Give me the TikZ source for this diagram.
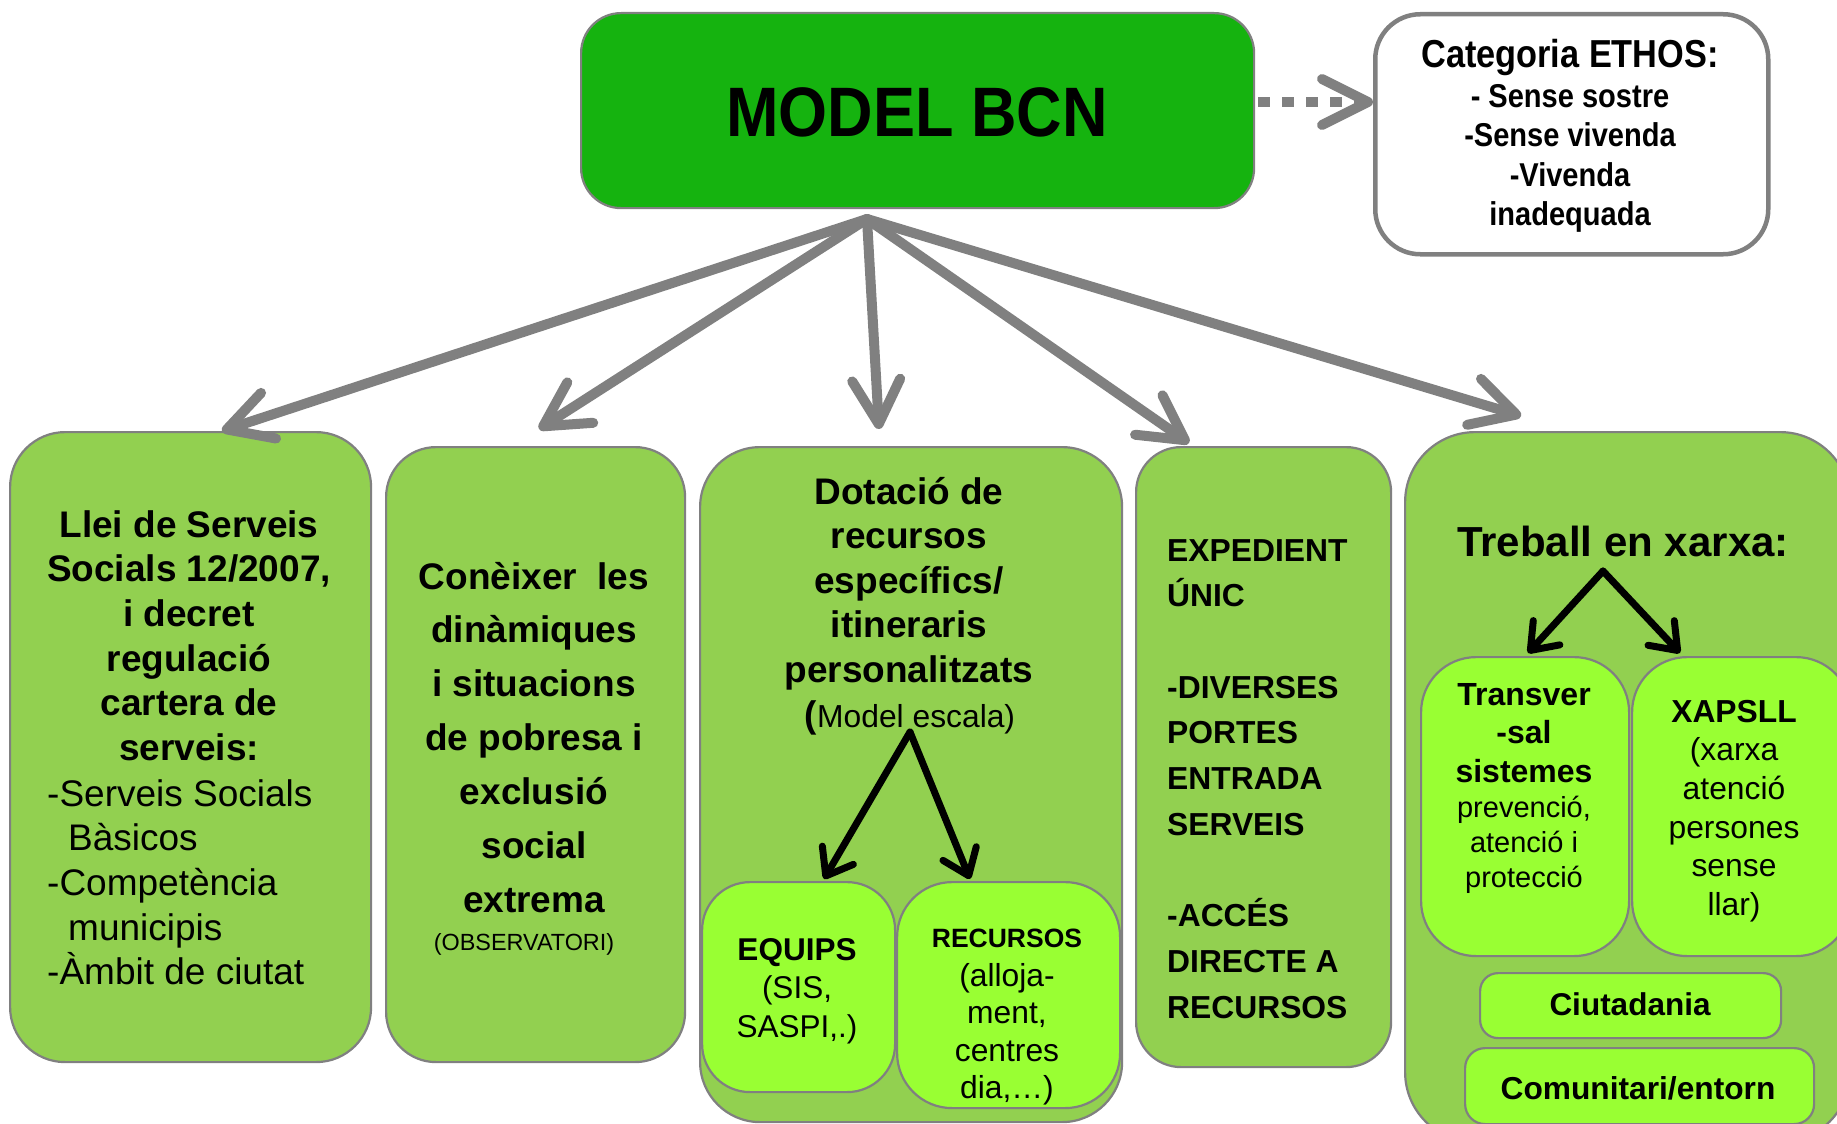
\documentclass[tikz,border=0pt]{standalone}
\usepackage{fontspec}
\setmainfont{Liberation Sans}
\newfontfamily\narrowfont[FakeStretch=0.88]{Liberation Sans}
\newfontfamily\titlefont[FakeStretch=0.9]{Liberation Sans}
\usetikzlibrary{arrows.meta}
\definecolor{maingreen}{RGB}{21,179,15}
\definecolor{boxgreen}{RGB}{146,208,80}
\definecolor{limegreen}{RGB}{153,255,51}
\definecolor{edgegray}{RGB}{128,128,128}
\tikzset{
  panel/.style={draw=edgegray, line width=2.2pt, fill=boxgreen, inner sep=0pt, anchor=north west},
  subpanel/.style={panel, fill=limegreen},
  txt/.style={inner sep=0pt, anchor=base, align=center},
  txtl/.style={inner sep=0pt, anchor=base west, align=left},
  bigarrow/.style={draw=edgegray, line width=10pt, line cap=round, -{Straight Barb[round,length=44pt,width=48pt]}},
  dotarrow/.style={draw=edgegray, line width=10pt, dash pattern=on 12pt off 12pt, -{Straight Barb[round,length=46pt,width=46pt]}},
  blackarrow/.style={draw=black, line width=7pt, line cap=round, -{Straight Barb[round,length=24pt,width=36pt]}},
}
\begin{document}
\begin{tikzpicture}[x=1pt,y=-1pt]
\clip (0,0) rectangle (1837,1124);
\fill[white] (0,0) rectangle (1837,1124);

% top boxes
\node[panel, fill=maingreen, rounded corners=40pt, minimum width=673pt, minimum height=195pt] (main) at (580,12) {};
\node[panel, fill=white, line width=4.5pt, rounded corners=45pt, minimum width=393pt, minimum height=240pt] (ethos) at (1373,12) {};

% lower panels
\node[panel, rounded corners=55pt, minimum width=361pt, minimum height=630pt] (lei) at (9,431) {};
\node[panel, rounded corners=50pt, minimum width=299pt, minimum height=615pt] (conei) at (385,446) {};
\node[panel, rounded corners=60pt, minimum width=422pt, minimum height=675pt] (dota) at (699,446) {};
\node[panel, rounded corners=45pt, minimum width=255pt, minimum height=620pt] (exped) at (1135,446) {};
\node[panel, rounded corners=70pt, minimum width=445pt, minimum height=710pt] (xarxa) at (1404,431) {};

% sub panels
\node[subpanel, rounded corners=48pt, minimum width=193pt, minimum height=210pt] (equips) at (701,881) {};
\node[subpanel, rounded corners=55pt, minimum width=223pt, minimum height=226pt] (recur) at (896,881) {};
\node[subpanel, rounded corners=55pt, minimum width=208pt, minimum height=299pt] (transv) at (1420,656) {};
\node[subpanel, rounded corners=55pt, minimum width=219pt, minimum height=299pt] (xapsll) at (1631,656) {};
\node[subpanel, rounded corners=18pt, minimum width=301pt, minimum height=65pt] (ciuta) at (1479,972) {};
\node[subpanel, rounded corners=20pt, minimum width=349pt, minimum height=76pt] (comun) at (1464,1047) {};

% texts (anchor = baseline of the last line)
\node[txt, font=\titlefont\bfseries\fontsize{70}{84}\selectfont] (mtitle) at (917,136) {MODEL BCN};
\node[txt, font=\narrowfont\bfseries\fontsize{39}{39.5}\selectfont] (ethosT) at (1570,68) {Categoria ETHOS:};
\node[txt, font=\narrowfont\bfseries\fontsize{33}{39.5}\selectfont] (ethosL) at (1570,225.5) {- Sense sostre\\-Sense vivenda\\-Vivenda\\inadequada};

\node[txt, font=\bfseries\fontsize{37}{44.7}\selectfont] (leiT) at (189,760.5) {Llei de Serveis\\Socials 12/2007,\\i decret\\regulació\\cartera de\\serveis:};
\node[txtl, font=\fontsize{37}{44.7}\selectfont] (leiL) at (47,984.8) {-Serveis Socials\\\hspace*{21pt}Bàsicos\\-Competència\\\hspace*{21pt}municipis\\-Àmbit de ciutat};

\node[txt, font=\bfseries\fontsize{37}{53.9}\selectfont] (coneiT) at (534,912.4) {Conèixer\ \ les\\dinàmiques\\i situacions\\de pobresa i\\exclusió\\social\\extrema};
\node[txt, font=\fontsize{23.4}{28}\selectfont] (obs) at (524,950) {(OBSERVATORI)};

\node[txt, font=\bfseries\fontsize{37}{44.6}\selectfont] (dotaT) at (909,682.4) {Dotació de\\recursos\\específics/\\itineraris\\personalitzats};
\node[txt] (escala) at (910,727) {{\bfseries\fontsize{37}{44}\selectfont(}{\fontsize{31.8}{38}\selectfont Model escala)}};

\node[txt, font=\fontsize{31.5}{38.7}\selectfont] (equipsT) at (797,1037.4) {{\bfseries EQUIPS}\\(SIS,\\SASPI,.)};
\node[txt, font=\bfseries\fontsize{26.5}{32}\selectfont] (recurT) at (1007,947) {RECURSOS};
\node[txt, font=\fontsize{31.8}{37.5}\selectfont] (recurL) at (1007,1098.5) {(alloja-\\ment,\\centres\\dia,…)};

\node[txtl, font=\bfseries\fontsize{31.8}{45.7}\selectfont] (expedT) at (1167,1018) {EXPEDIENT\\ÚNIC\\[45.7pt]-DIVERSES\\PORTES\\ENTRADA\\SERVEIS\\[45.7pt]-ACCÉS\\DIRECTE A\\RECURSOS};

\node[txt, font=\bfseries\fontsize{42}{50}\selectfont] (xarxaT) at (1623,556) {Treball en xarxa:};
\node[txt, font=\bfseries\fontsize{32}{38.7}\selectfont] (transvT) at (1524,782.4) {Transver\\-sal\\sistemes};
\node[txt, font=\fontsize{29}{35}\selectfont] (transvL) at (1524,887) {prevenció,\\atenció i\\protecció};
\node[txt, font=\fontsize{31.8}{38.7}\selectfont] (xapsllT) at (1734,915.5) {{\bfseries XAPSLL}\\(xarxa\\atenció\\persones\\sense\\llar)};
\node[txt, font=\bfseries\fontsize{31.5}{38}\selectfont] (ciutaT) at (1630,1015) {Ciutadania};
\node[txt, font=\bfseries\fontsize{31.7}{38}\selectfont] (comunT) at (1638,1099) {Comunitari/entorn};

% connectors
\coordinate (hub) at (867,219);
\coordinate (t1) at (222,431);
\coordinate (t2) at (539,429);
\coordinate (t3) at (879,429);
\coordinate (t4) at (1189,443);
\coordinate (t5) at (1521,416);
\draw[bigarrow] (hub) -- (t1);
\draw[bigarrow] (hub) -- (t2);
\draw[bigarrow] (hub) -- (t3);
\draw[bigarrow] (hub) -- (t4);
\draw[bigarrow] (hub) -- (t5);

\coordinate (d1) at (1258,102);
\draw[dotarrow] (d1) -- (ethos.west |- d1);

\coordinate (apex1) at (910,732);
\coordinate (e1) at (824,879);
\coordinate (e2) at (970,879);
\draw[blackarrow] (apex1) -- (e1);
\draw[blackarrow] (apex1) -- (e2);

\coordinate (apex2) at (1603,571);
\coordinate (f1) at (1528,653);
\coordinate (f2) at (1680,653);
\draw[blackarrow] (apex2) -- (f1);
\draw[blackarrow] (apex2) -- (f2);
\end{tikzpicture}
\end{document}
